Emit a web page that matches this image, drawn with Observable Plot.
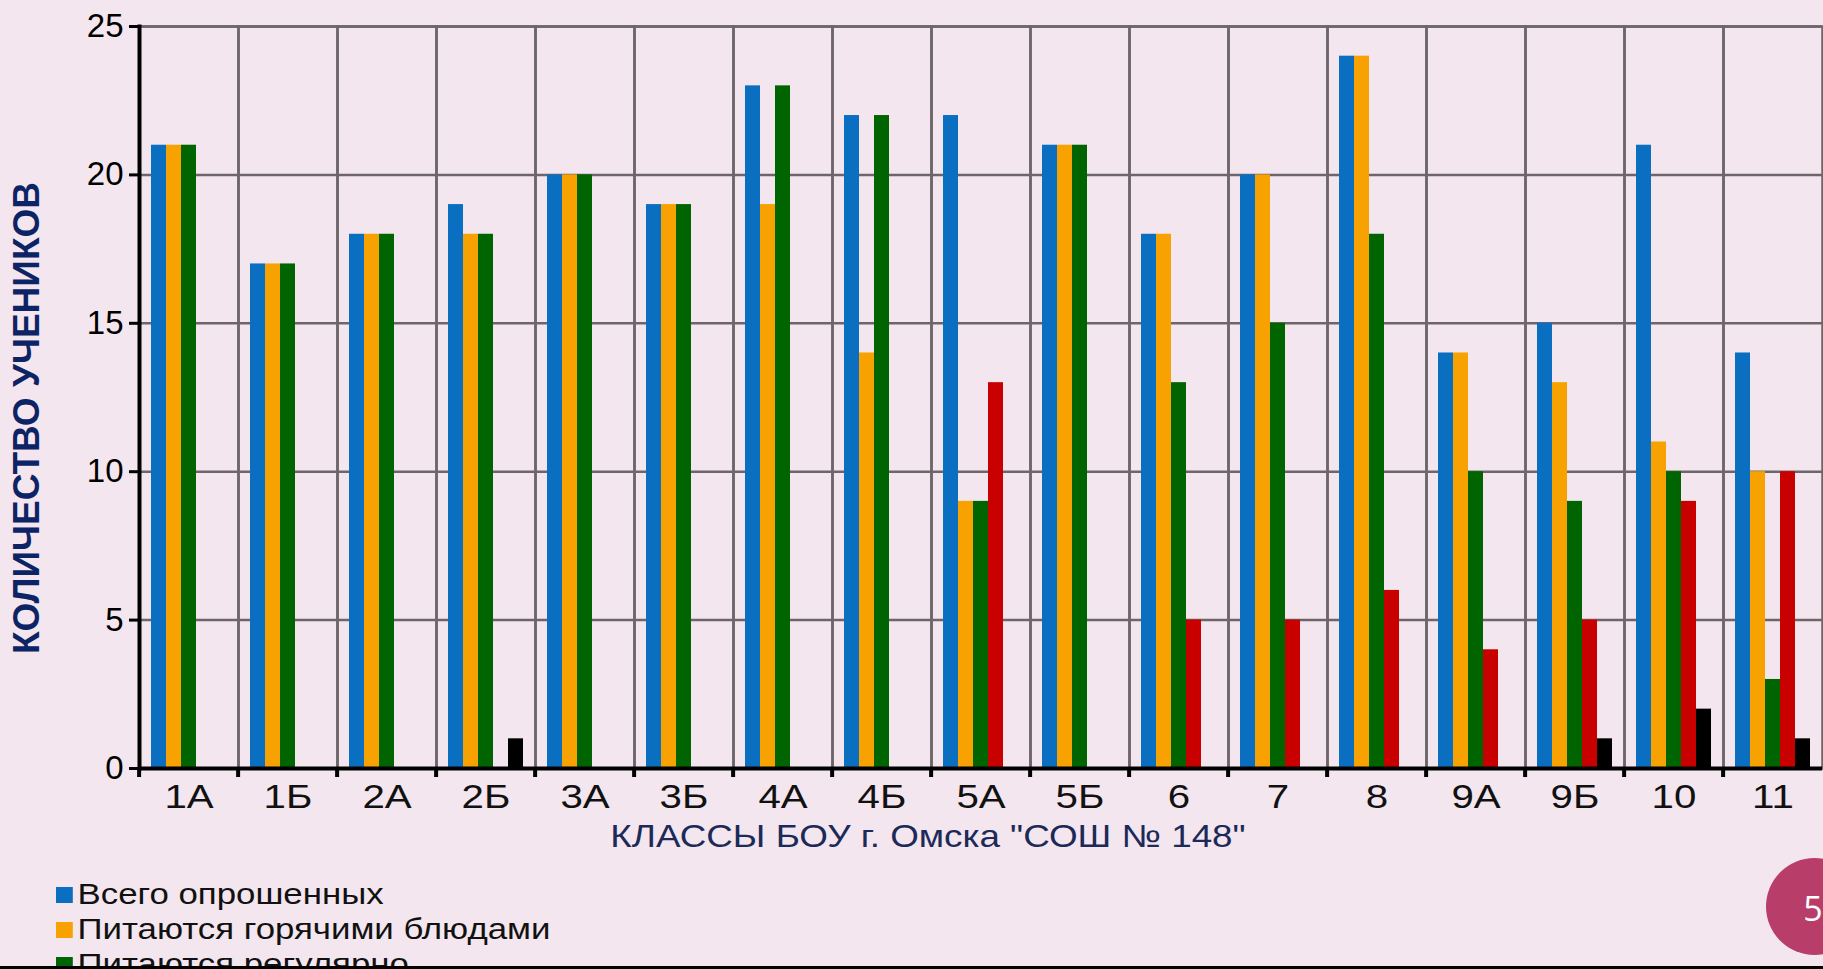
<!DOCTYPE html>
<html>
<head>
<meta charset="utf-8">
<script src="https://cdn.jsdelivr.net/npm/d3@7"></script>
<script src="https://cdn.jsdelivr.net/npm/@observablehq/plot@0.6"></script>
<style>
  html, body { margin: 0; padding: 0; background: #f4e6ee; }
  #page { position: relative; width: 1823px; height: 969px; overflow: hidden; background: #f4e6ee; font-family: "Liberation Sans", Arial, sans-serif; }
  #chart { position: absolute; left: 0; top: 0; }
  #ytitle { position: absolute; left: 27px; top: 418px; transform: translate(-50%, -50%) rotate(-90deg); font-weight: bold; font-size: 37px; color: #0c2465; white-space: nowrap; }
  #xtitle { position: absolute; left: 928px; top: 836px; transform: translate(-50%, -50%) scaleX(1.15); font-size: 32px; color: #1b2a58; white-space: nowrap; }
  #legend { position: absolute; left: 56px; top: 877px; transform-origin: left top; transform: scaleX(1.2); font-size: 29px; color: #111; }
  .lrow { display: flex; align-items: center; height: 35px; white-space: nowrap; }
  .sw { width: 14px; height: 16px; margin-right: 4px; }
  #pnum { position: absolute; left: 1766px; top: 858px; width: 97px; height: 97px; border-radius: 50%; background: #b83d68; }
  #pnumtxt { position: absolute; left: 1813px; top: 908px; transform: translate(-50%, -50%); color: #fff; font-family: "Open Sans", sans-serif; font-size: 34px; }
  #bottomline { position: absolute; left: 0; top: 966px; width: 1823px; height: 3px; background: #000; }
</style>
</head>
<body>
<div id="page">
  <div id="chart"></div>
  <div id="ytitle">КОЛИЧЕСТВО УЧЕНИКОВ</div>
  <div id="xtitle">КЛАССЫ БОУ г. Омска "СОШ № 148"</div>
  <div id="legend"></div>
  <div id="pnum"></div>
  <div id="pnumtxt">5</div>
  <div id="bottomline"></div>
</div>
<script>
// ---- data ----
const classes = ["1А", "1Б", "2А", "2Б", "3А", "3Б", "4А", "4Б", "5А", "5Б", "6", "7", "8", "9А", "9Б", "10", "11"];
const seriesNames = ["Всего опрошенных", "Питаются горячими блюдами", "Питаются регулярно", "Питаются нерегулярно", "Не питаются"];
const totalSurveyed = [21, 17, 18, 19, 20, 19, 23, 22, 22, 21, 18, 20, 24, 14, 15, 21, 14];
const hotMeals      = [21, 17, 18, 18, 20, 19, 19, 14,  9, 21, 18, 20, 24, 14, 13, 11, 10];
const regularly     = [21, 17, 18, 18, 20, 19, 23, 22,  9, 21, 13, 15, 18, 10,  9, 10,  3];
const irregularly   = [ 0,  0,  0,  0,  0,  0,  0,  0, 13,  0,  5,  5,  6,  4,  5,  9, 10];
const notEating     = [ 0,  0,  0,  1,  0,  0,  0,  0,  0,  0,  0,  0,  0,  0,  1,  2,  1];
const seriesColors = ["#0a6fc0", "#f7a200", "#006400", "#c80000", "#000000"];
const yTicks = [0, 5, 10, 15, 20, 25];

const seriesValues = [totalSurveyed, hotMeals, regularly, irregularly, notEating];
const rows = classes.flatMap((c, i) => seriesNames.map((s, j) => ({cls: c, series: s, value: seriesValues[j][i]})));

const W = 1828, ML = 132;
const step = (W - ML) / classes.length;

const chart = Plot.plot({
  width: W,
  height: 820,
  marginLeft: ML,
  marginRight: 0,
  marginTop: 26,
  marginBottom: 52,
  style: {background: "transparent", maxWidth: "none", overflow: "visible", fontFamily: "'Liberation Sans', Arial, sans-serif"},
  fx: {domain: classes, padding: 0, axis: null},
  x: {domain: seriesNames, paddingInner: 0, paddingOuter: 0.625, axis: null},
  y: {domain: [0, 25], axis: null},
  color: {domain: seriesNames, range: seriesColors},
  marks: [
    Plot.gridY(yTicks, {stroke: "#6c666a", strokeWidth: 2.5, strokeOpacity: 1}),
    Plot.frame({stroke: "#6c666a", strokeWidth: 2.5}),
    Plot.barY(rows, {fx: "cls", x: "series", y: "value", fill: "series"}),
    Plot.ruleY([0], {stroke: "#000", strokeWidth: 4}),
    Plot.frame({anchor: "left", facetAnchor: "left", stroke: "#000", strokeWidth: 4}),
    Plot.axisY(yTicks, {anchor: "left", tickSize: 10, tickPadding: 6, fontSize: 33, color: "#000", strokeWidth: 3, label: null}),
    Plot.axisFx({anchor: "bottom", tickSize: 0, tickPadding: 16, fontSize: 33, color: "#111", label: null}),
    Plot.axisFx({anchor: "bottom", tickSize: 9, tickFormat: () => "", dx: -step / 2, color: "#000", strokeWidth: 4, label: null})
  ]
});
document.getElementById("chart").appendChild(chart);

// horizontally stretched category labels like the original
d3.select(chart).selectAll('[aria-label="fx-axis tick label"] text').each(function() {
  const w = this.getComputedTextLength();
  if (w > 0) { this.setAttribute("textLength", w * 1.22); this.setAttribute("lengthAdjust", "spacingAndGlyphs"); }
});

// legend (first three rows visible, the rest is cut off by the page edge, as in the original)
const legend = d3.select("#legend");
seriesNames.forEach((s, i) => {
  const r = legend.append("div").attr("class", "lrow");
  r.append("div").attr("class", "sw").style("background", seriesColors[i]);
  r.append("span").text(s);
});
</script>
</body>
</html>
